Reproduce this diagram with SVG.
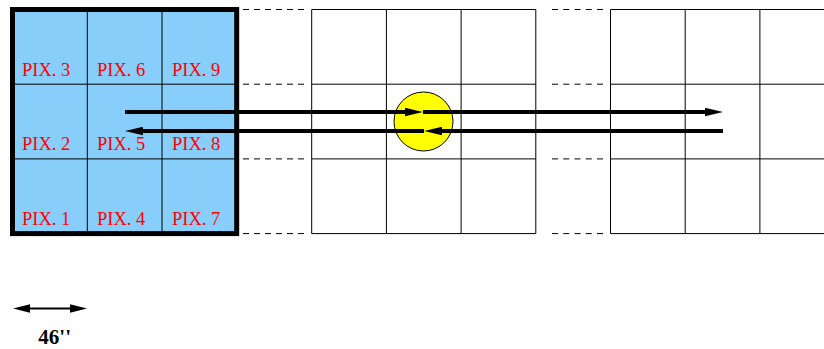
<svg xmlns="http://www.w3.org/2000/svg" width="824" height="349" viewBox="0 0 824 349">
<style>
  .grid { stroke: #000; stroke-width: 1; fill: none; }
  .dash { stroke: #000; stroke-width: 1; fill: none; }
  .pix { font-family: "Liberation Serif", "Times New Roman", serif; font-size: 18.5px; fill: #ff0000; }
  .arrow { stroke: #000; stroke-width: 4; fill: none; }
  .scale { stroke: #000; stroke-width: 2; fill: none; }
  .lbl { font-family: "Liberation Serif", "Times New Roman", serif; font-size: 21px; font-weight: bold; fill: #000; }
</style>
<defs>
  <marker id="head" markerUnits="userSpaceOnUse" markerWidth="18" markerHeight="9" refX="9" refY="4.25" orient="auto" viewBox="0 0 18 8.5">
    <path d="M0,0 L18,4.25 L0,8.5 z" fill="#000"/>
  </marker>
  <marker id="shead" markerUnits="userSpaceOnUse" markerWidth="17" markerHeight="9" refX="5" refY="4.3" orient="auto-start-reverse" viewBox="0 0 17 8.6">
    <path d="M0,0 L17,4.3 L0,8.6 z" fill="#000"/>
  </marker>
</defs>

<!-- dashed connections between grids -->
<g id="gaps">
  <path class="dash" stroke-dasharray="6 5" d="M243,9.5 H304 M243,84.2 H304 M243,158.9 H304 M243,233.6 H304"/>
  <path class="dash" stroke-dasharray="6 5.25" d="M552,9.5 H603 M552,84.2 H603 M552,158.9 H603 M552,233.6 H603"/>
</g>

<!-- middle grid -->
<g id="grid-middle">
  <path class="grid" d="M311.7,9.5 H535.8 M311.7,84.2 H535.8 M311.7,158.9 H535.8 M311.7,233.6 H535.8 M311.7,9.5 V233.6 M386.4,9.5 V233.6 M461.1,9.5 V233.6 M535.8,9.5 V233.6"/>
</g>

<!-- right grid -->
<g id="grid-right">
  <path class="grid" d="M610.5,9.5 H824 M610.5,84.2 H824 M610.5,158.9 H824 M610.5,233.6 H824 M610.5,9.5 V233.6 M685.2,9.5 V233.6 M759.9,9.5 V233.6"/>
</g>

<!-- detector block -->
<g id="detector">
  <rect x="12.5" y="9.5" width="224.2" height="224.1" fill="#87cefa" stroke="none"/>
  <path class="grid" d="M87.3,9.5 V233.6 M162,9.5 V233.6 M12.5,84.2 H236.7 M12.5,158.9 H236.7"/>
  <rect x="12.5" y="9.5" width="224.2" height="224.1" fill="none" stroke="#000" stroke-width="5"/>
  <text class="pix" x="22" y="75.5">PIX. 3</text>
  <text class="pix" x="97" y="75.5">PIX. 6</text>
  <text class="pix" x="172" y="75.5">PIX. 9</text>
  <text class="pix" x="22" y="149.5">PIX. 2</text>
  <text class="pix" x="97" y="149.5">PIX. 5</text>
  <text class="pix" x="172" y="149.5">PIX. 8</text>
  <text class="pix" x="22" y="225">PIX. 1</text>
  <text class="pix" x="97" y="225">PIX. 4</text>
  <text class="pix" x="172" y="225">PIX. 7</text>
</g>

<!-- source -->
<g id="source">
  <circle cx="423.5" cy="121.5" r="29.5" fill="#ffff00" stroke="#000" stroke-width="1"/>
</g>

<!-- scan arrows -->
<g id="connectors">
  <path class="arrow" marker-end="url(#head)" d="M125,112 H414"/>
  <path class="arrow" marker-end="url(#head)" d="M423,112 H714"/>
  <path class="arrow" marker-end="url(#head)" d="M723,131 H433"/>
  <path class="arrow" marker-end="url(#head)" d="M424,131 H134"/>
</g>

<!-- scale -->
<g id="scale">
  <path class="scale" marker-start="url(#shead)" marker-end="url(#shead)" d="M25,308.5 H75"/>
  <text class="lbl" x="38.3" y="344">46''</text>
</g>
</svg>
